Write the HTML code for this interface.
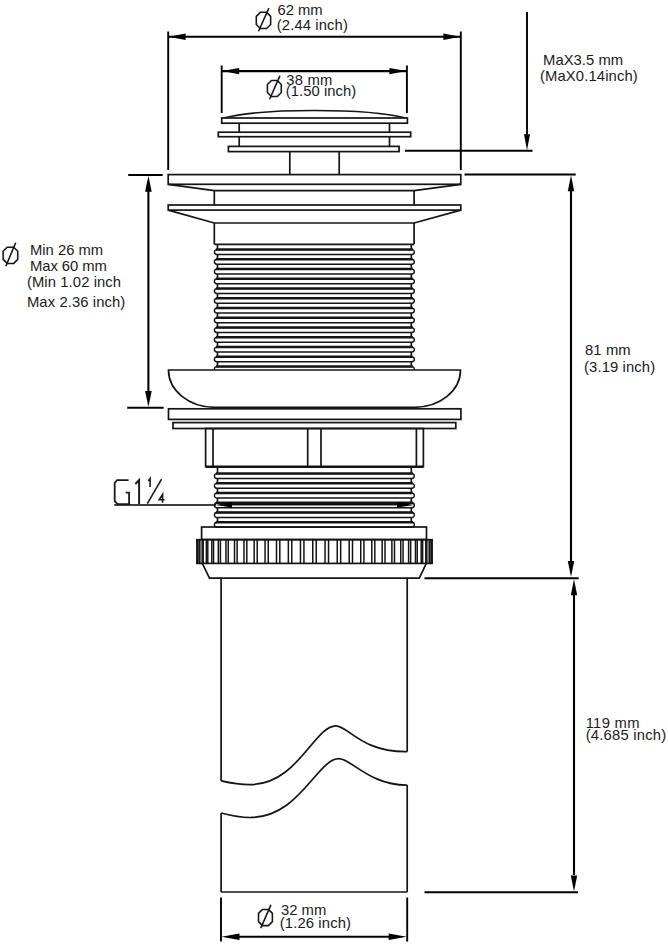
<!DOCTYPE html>
<html><head><meta charset="utf-8"><style>
html,body{margin:0;padding:0;background:#fff;}
svg{display:block;}
text{font-family:"Liberation Sans",sans-serif;}
</style></head><body>
<svg width="668" height="945" viewBox="0 0 668 945">
<rect width="668" height="945" fill="#fff"/>
<line x1="168.20" y1="31.50" x2="168.20" y2="170.00" stroke="#000" stroke-width="1.9"/>
<line x1="460.80" y1="31.50" x2="460.80" y2="170.00" stroke="#000" stroke-width="1.9"/>
<line x1="169.00" y1="36.80" x2="460.00" y2="36.80" stroke="#000" stroke-width="2.1"/>
<polygon points="168.60,36.80 185.60,33.60 185.60,40.00" fill="#000"/>
<polygon points="460.40,36.80 443.40,40.00 443.40,33.60" fill="#000"/>
<polygon points="260.30,12.33 266.65,12.33 270.65,16.33 270.65,24.50 266.65,28.50 260.30,28.50 256.30,24.50 256.30,16.33" fill="none" stroke="#161616" stroke-width="1.55" stroke-linejoin="round"/>
<line x1="258.50" y1="31.20" x2="268.90" y2="8.06" stroke="#161616" stroke-width="1.55"/>
<text x="277.4" y="14.7" font-size="14.8" textLength="45.3" lengthAdjust="spacing" fill="#1a1a1a">62 mm</text>
<text x="276.8" y="29.6" font-size="14.8" textLength="71.1" lengthAdjust="spacing" fill="#1a1a1a">(2.44 inch)</text>
<line x1="221.70" y1="65.50" x2="221.70" y2="113.00" stroke="#000" stroke-width="1.9"/>
<line x1="406.90" y1="65.50" x2="406.90" y2="113.00" stroke="#000" stroke-width="1.9"/>
<line x1="222.00" y1="71.10" x2="406.50" y2="71.10" stroke="#000" stroke-width="2.1"/>
<polygon points="222.20,71.10 239.20,67.90 239.20,74.30" fill="#000"/>
<polygon points="406.40,71.10 389.40,74.30 389.40,67.90" fill="#000"/>
<polygon points="271.40,80.55 277.30,80.55 281.30,84.55 281.30,92.50 277.30,96.50 271.40,96.50 267.40,92.50 267.40,84.55" fill="none" stroke="#161616" stroke-width="1.55" stroke-linejoin="round"/>
<line x1="269.60" y1="99.20" x2="280.00" y2="75.60" stroke="#161616" stroke-width="1.55"/>
<text x="286.2" y="84.6" font-size="14.8" textLength="46.1" lengthAdjust="spacing" fill="#1a1a1a">38 mm</text>
<text x="285.8" y="95.9" font-size="14.8" textLength="70.5" lengthAdjust="spacing" fill="#1a1a1a">(1.50 inch)</text>
<path d="M223.5 118 C262 108, 367 108, 405.5 118" fill="none" stroke="#141414" stroke-width="1.7"/>
<line x1="239.20" y1="123.20" x2="239.20" y2="146.40" stroke="#141414" stroke-width="1.7"/>
<line x1="389.50" y1="123.20" x2="389.50" y2="146.40" stroke="#141414" stroke-width="1.7"/>
<rect x="221.70" y="118.00" width="185.70" height="5.20" rx="0" fill="#fff" stroke="#141414" stroke-width="1.7"/>
<rect x="218.30" y="132.20" width="192.40" height="4.50" rx="0" fill="#fff" stroke="#141414" stroke-width="1.7"/>
<rect x="228.40" y="146.40" width="170.70" height="5.20" rx="0" fill="#fff" stroke="#141414" stroke-width="1.7"/>
<line x1="289.80" y1="151.60" x2="289.80" y2="175.00" stroke="#141414" stroke-width="1.7"/>
<line x1="339.20" y1="151.60" x2="339.20" y2="175.00" stroke="#141414" stroke-width="1.7"/>
<line x1="404.90" y1="150.70" x2="532.50" y2="150.70" stroke="#000" stroke-width="1.9"/>
<line x1="527.00" y1="12.00" x2="527.00" y2="140.00" stroke="#000" stroke-width="1.9"/>
<polygon points="527.00,150.20 524.00,134.20 530.00,134.20" fill="#000"/>
<text x="543.1" y="64.7" font-size="14.8" textLength="80.0" lengthAdjust="spacing" fill="#1a1a1a">MaX3.5 mm</text>
<text x="540.0" y="81.3" font-size="14.8" textLength="97.8" lengthAdjust="spacing" fill="#1a1a1a">(MaX0.14inch)</text>
<rect x="168.20" y="174.60" width="292.60" height="9.70" rx="0" fill="none" stroke="#141414" stroke-width="1.7"/>
<path d="M168.2 184.3 L214.3 190.7 L414.1 190.7 L460.8 184.3" fill="none" stroke="#141414" stroke-width="1.7"/>
<line x1="214.30" y1="190.70" x2="214.30" y2="205.00" stroke="#141414" stroke-width="1.7"/>
<line x1="414.10" y1="190.70" x2="414.10" y2="205.00" stroke="#141414" stroke-width="1.7"/>
<rect x="168.20" y="205.00" width="292.60" height="5.10" rx="0" fill="none" stroke="#141414" stroke-width="1.7"/>
<path d="M168.2 210.1 L214.3 223 L414.1 223 L460.8 210.1" fill="none" stroke="#141414" stroke-width="1.7"/>
<line x1="214.30" y1="223.00" x2="214.30" y2="244.30" stroke="#141414" stroke-width="1.7"/>
<line x1="414.10" y1="223.00" x2="414.10" y2="244.30" stroke="#141414" stroke-width="1.7"/>
<line x1="214.30" y1="244.30" x2="414.10" y2="244.30" stroke="#141414" stroke-width="1.7"/>
<line x1="217.50" y1="244.60" x2="217.50" y2="249.60" stroke="#141414" stroke-width="1.7"/>
<line x1="411.30" y1="244.60" x2="411.30" y2="249.60" stroke="#141414" stroke-width="1.7"/>
<path d="M216.85 249.60 L411.85 249.60 A2.45 2.45 0 0 1 411.85 254.50 L216.85 254.50 A2.45 2.45 0 0 1 216.85 249.60 Z" fill="none" stroke="#141414" stroke-width="1.4"/>
<line x1="215.90" y1="249.50" x2="412.80" y2="249.50" stroke="#141414" stroke-width="2.5"/>
<line x1="217.50" y1="254.50" x2="217.50" y2="259.35" stroke="#141414" stroke-width="1.7"/>
<line x1="411.30" y1="254.50" x2="411.30" y2="259.35" stroke="#141414" stroke-width="1.7"/>
<path d="M216.85 259.35 L411.85 259.35 A2.45 2.45 0 0 1 411.85 264.25 L216.85 264.25 A2.45 2.45 0 0 1 216.85 259.35 Z" fill="none" stroke="#141414" stroke-width="1.4"/>
<line x1="215.90" y1="259.25" x2="412.80" y2="259.25" stroke="#141414" stroke-width="2.5"/>
<line x1="217.50" y1="264.25" x2="217.50" y2="269.10" stroke="#141414" stroke-width="1.7"/>
<line x1="411.30" y1="264.25" x2="411.30" y2="269.10" stroke="#141414" stroke-width="1.7"/>
<path d="M216.85 269.10 L411.85 269.10 A2.45 2.45 0 0 1 411.85 274.00 L216.85 274.00 A2.45 2.45 0 0 1 216.85 269.10 Z" fill="none" stroke="#141414" stroke-width="1.4"/>
<line x1="215.90" y1="269.00" x2="412.80" y2="269.00" stroke="#141414" stroke-width="2.5"/>
<line x1="217.50" y1="274.00" x2="217.50" y2="278.85" stroke="#141414" stroke-width="1.7"/>
<line x1="411.30" y1="274.00" x2="411.30" y2="278.85" stroke="#141414" stroke-width="1.7"/>
<path d="M216.85 278.85 L411.85 278.85 A2.45 2.45 0 0 1 411.85 283.75 L216.85 283.75 A2.45 2.45 0 0 1 216.85 278.85 Z" fill="none" stroke="#141414" stroke-width="1.4"/>
<line x1="215.90" y1="278.75" x2="412.80" y2="278.75" stroke="#141414" stroke-width="2.5"/>
<line x1="217.50" y1="283.75" x2="217.50" y2="288.60" stroke="#141414" stroke-width="1.7"/>
<line x1="411.30" y1="283.75" x2="411.30" y2="288.60" stroke="#141414" stroke-width="1.7"/>
<path d="M216.85 288.60 L411.85 288.60 A2.45 2.45 0 0 1 411.85 293.50 L216.85 293.50 A2.45 2.45 0 0 1 216.85 288.60 Z" fill="none" stroke="#141414" stroke-width="1.4"/>
<line x1="215.90" y1="288.50" x2="412.80" y2="288.50" stroke="#141414" stroke-width="2.5"/>
<line x1="217.50" y1="293.50" x2="217.50" y2="298.35" stroke="#141414" stroke-width="1.7"/>
<line x1="411.30" y1="293.50" x2="411.30" y2="298.35" stroke="#141414" stroke-width="1.7"/>
<path d="M216.85 298.35 L411.85 298.35 A2.45 2.45 0 0 1 411.85 303.25 L216.85 303.25 A2.45 2.45 0 0 1 216.85 298.35 Z" fill="none" stroke="#141414" stroke-width="1.4"/>
<line x1="215.90" y1="298.25" x2="412.80" y2="298.25" stroke="#141414" stroke-width="2.5"/>
<line x1="217.50" y1="303.25" x2="217.50" y2="308.10" stroke="#141414" stroke-width="1.7"/>
<line x1="411.30" y1="303.25" x2="411.30" y2="308.10" stroke="#141414" stroke-width="1.7"/>
<path d="M216.85 308.10 L411.85 308.10 A2.45 2.45 0 0 1 411.85 313.00 L216.85 313.00 A2.45 2.45 0 0 1 216.85 308.10 Z" fill="none" stroke="#141414" stroke-width="1.4"/>
<line x1="215.90" y1="308.00" x2="412.80" y2="308.00" stroke="#141414" stroke-width="2.5"/>
<line x1="217.50" y1="313.00" x2="217.50" y2="317.85" stroke="#141414" stroke-width="1.7"/>
<line x1="411.30" y1="313.00" x2="411.30" y2="317.85" stroke="#141414" stroke-width="1.7"/>
<path d="M216.85 317.85 L411.85 317.85 A2.45 2.45 0 0 1 411.85 322.75 L216.85 322.75 A2.45 2.45 0 0 1 216.85 317.85 Z" fill="none" stroke="#141414" stroke-width="1.4"/>
<line x1="215.90" y1="317.75" x2="412.80" y2="317.75" stroke="#141414" stroke-width="2.5"/>
<line x1="217.50" y1="322.75" x2="217.50" y2="327.60" stroke="#141414" stroke-width="1.7"/>
<line x1="411.30" y1="322.75" x2="411.30" y2="327.60" stroke="#141414" stroke-width="1.7"/>
<path d="M216.85 327.60 L411.85 327.60 A2.45 2.45 0 0 1 411.85 332.50 L216.85 332.50 A2.45 2.45 0 0 1 216.85 327.60 Z" fill="none" stroke="#141414" stroke-width="1.4"/>
<line x1="215.90" y1="327.50" x2="412.80" y2="327.50" stroke="#141414" stroke-width="2.5"/>
<line x1="217.50" y1="332.50" x2="217.50" y2="337.35" stroke="#141414" stroke-width="1.7"/>
<line x1="411.30" y1="332.50" x2="411.30" y2="337.35" stroke="#141414" stroke-width="1.7"/>
<path d="M216.85 337.35 L411.85 337.35 A2.45 2.45 0 0 1 411.85 342.25 L216.85 342.25 A2.45 2.45 0 0 1 216.85 337.35 Z" fill="none" stroke="#141414" stroke-width="1.4"/>
<line x1="215.90" y1="337.25" x2="412.80" y2="337.25" stroke="#141414" stroke-width="2.5"/>
<line x1="217.50" y1="342.25" x2="217.50" y2="347.10" stroke="#141414" stroke-width="1.7"/>
<line x1="411.30" y1="342.25" x2="411.30" y2="347.10" stroke="#141414" stroke-width="1.7"/>
<path d="M216.85 347.10 L411.85 347.10 A2.45 2.45 0 0 1 411.85 352.00 L216.85 352.00 A2.45 2.45 0 0 1 216.85 347.10 Z" fill="none" stroke="#141414" stroke-width="1.4"/>
<line x1="215.90" y1="347.00" x2="412.80" y2="347.00" stroke="#141414" stroke-width="2.5"/>
<line x1="217.50" y1="352.00" x2="217.50" y2="356.85" stroke="#141414" stroke-width="1.7"/>
<line x1="411.30" y1="352.00" x2="411.30" y2="356.85" stroke="#141414" stroke-width="1.7"/>
<path d="M216.85 356.85 L411.85 356.85 A2.45 2.45 0 0 1 411.85 361.75 L216.85 361.75 A2.45 2.45 0 0 1 216.85 356.85 Z" fill="none" stroke="#141414" stroke-width="1.4"/>
<line x1="215.90" y1="356.75" x2="412.80" y2="356.75" stroke="#141414" stroke-width="2.5"/>
<line x1="217.50" y1="361.75" x2="217.50" y2="366.60" stroke="#141414" stroke-width="1.7"/>
<line x1="411.30" y1="361.75" x2="411.30" y2="366.60" stroke="#141414" stroke-width="1.7"/>
<path d="M216.85 366.60 L411.85 366.60 A2.45 2.45 0 0 1 411.85 371.50 L216.85 371.50 A2.45 2.45 0 0 1 216.85 366.60 Z" fill="none" stroke="#141414" stroke-width="1.4"/>
<line x1="215.90" y1="366.50" x2="412.80" y2="366.50" stroke="#141414" stroke-width="2.5"/>
<line x1="217.50" y1="371.50" x2="217.50" y2="370.00" stroke="#141414" stroke-width="1.7"/>
<line x1="411.30" y1="371.50" x2="411.30" y2="370.00" stroke="#141414" stroke-width="1.7"/>
<path d="M168.5 370 L460.5 370 A46 37.3 0 0 1 414.5 407.3 L214.5 407.3 A46 37.3 0 0 1 168.5 370 Z" fill="#fff" stroke="#141414" stroke-width="1.7"/>
<rect x="168.50" y="408.80" width="292.40" height="10.60" rx="0" fill="none" stroke="#141414" stroke-width="1.7"/>
<rect x="173.00" y="422.60" width="282.80" height="5.90" rx="0" fill="none" stroke="#141414" stroke-width="1.7"/>
<rect x="205.60" y="428.50" width="217.80" height="38.00" rx="0" fill="none" stroke="#141414" stroke-width="1.7"/>
<line x1="213.00" y1="428.00" x2="213.00" y2="466.50" stroke="#141414" stroke-width="1.7"/>
<line x1="416.40" y1="428.00" x2="416.40" y2="466.50" stroke="#141414" stroke-width="1.7"/>
<line x1="307.70" y1="428.00" x2="307.70" y2="466.50" stroke="#141414" stroke-width="1.7"/>
<line x1="321.00" y1="428.00" x2="321.00" y2="466.50" stroke="#141414" stroke-width="1.7"/>
<line x1="217.50" y1="466.50" x2="217.50" y2="473.60" stroke="#141414" stroke-width="1.7"/>
<line x1="411.30" y1="466.50" x2="411.30" y2="473.60" stroke="#141414" stroke-width="1.7"/>
<path d="M216.85 473.60 L411.85 473.60 A2.45 2.45 0 0 1 411.85 478.50 L216.85 478.50 A2.45 2.45 0 0 1 216.85 473.60 Z" fill="none" stroke="#141414" stroke-width="1.4"/>
<line x1="215.90" y1="473.50" x2="412.80" y2="473.50" stroke="#141414" stroke-width="2.5"/>
<line x1="217.50" y1="478.50" x2="217.50" y2="483.34" stroke="#141414" stroke-width="1.7"/>
<line x1="411.30" y1="478.50" x2="411.30" y2="483.34" stroke="#141414" stroke-width="1.7"/>
<path d="M216.85 483.34 L411.85 483.34 A2.45 2.45 0 0 1 411.85 488.24 L216.85 488.24 A2.45 2.45 0 0 1 216.85 483.34 Z" fill="none" stroke="#141414" stroke-width="1.4"/>
<line x1="215.90" y1="483.24" x2="412.80" y2="483.24" stroke="#141414" stroke-width="2.5"/>
<line x1="217.50" y1="488.24" x2="217.50" y2="493.08" stroke="#141414" stroke-width="1.7"/>
<line x1="411.30" y1="488.24" x2="411.30" y2="493.08" stroke="#141414" stroke-width="1.7"/>
<path d="M216.85 493.08 L411.85 493.08 A2.45 2.45 0 0 1 411.85 497.98 L216.85 497.98 A2.45 2.45 0 0 1 216.85 493.08 Z" fill="none" stroke="#141414" stroke-width="1.4"/>
<line x1="215.90" y1="492.98" x2="412.80" y2="492.98" stroke="#141414" stroke-width="2.5"/>
<line x1="217.50" y1="497.98" x2="217.50" y2="502.82" stroke="#141414" stroke-width="1.7"/>
<line x1="411.30" y1="497.98" x2="411.30" y2="502.82" stroke="#141414" stroke-width="1.7"/>
<path d="M216.85 502.82 L411.85 502.82 A2.45 2.45 0 0 1 411.85 507.72 L216.85 507.72 A2.45 2.45 0 0 1 216.85 502.82 Z" fill="none" stroke="#141414" stroke-width="1.4"/>
<line x1="215.90" y1="502.72" x2="412.80" y2="502.72" stroke="#141414" stroke-width="2.5"/>
<line x1="217.50" y1="507.72" x2="217.50" y2="512.56" stroke="#141414" stroke-width="1.7"/>
<line x1="411.30" y1="507.72" x2="411.30" y2="512.56" stroke="#141414" stroke-width="1.7"/>
<path d="M216.85 512.56 L411.85 512.56 A2.45 2.45 0 0 1 411.85 517.46 L216.85 517.46 A2.45 2.45 0 0 1 216.85 512.56 Z" fill="none" stroke="#141414" stroke-width="1.4"/>
<line x1="215.90" y1="512.46" x2="412.80" y2="512.46" stroke="#141414" stroke-width="2.5"/>
<line x1="217.50" y1="517.46" x2="217.50" y2="522.30" stroke="#141414" stroke-width="1.7"/>
<line x1="411.30" y1="517.46" x2="411.30" y2="522.30" stroke="#141414" stroke-width="1.7"/>
<path d="M216.85 522.30 L411.85 522.30 A2.45 2.45 0 0 1 411.85 527.20 L216.85 527.20 A2.45 2.45 0 0 1 216.85 522.30 Z" fill="none" stroke="#141414" stroke-width="1.4"/>
<line x1="215.90" y1="522.20" x2="412.80" y2="522.20" stroke="#141414" stroke-width="2.5"/>
<line x1="217.50" y1="527.20" x2="217.50" y2="527.00" stroke="#141414" stroke-width="1.7"/>
<line x1="411.30" y1="527.20" x2="411.30" y2="527.00" stroke="#141414" stroke-width="1.7"/>
<line x1="205.60" y1="466.80" x2="423.40" y2="466.80" stroke="#141414" stroke-width="2.2"/>
<rect x="201.60" y="527.00" width="224.90" height="12.50" rx="0" fill="none" stroke="#141414" stroke-width="1.7"/>
<rect x="196.90" y="539.70" width="235.20" height="23.70" rx="0" fill="none" stroke="#141414" stroke-width="1.7"/>
<line x1="197.74" y1="539.70" x2="197.74" y2="563.40" stroke="#141414" stroke-width="1.5"/>
<line x1="199.12" y1="539.70" x2="199.12" y2="563.40" stroke="#141414" stroke-width="1.5"/>
<line x1="199.85" y1="539.70" x2="199.85" y2="563.40" stroke="#141414" stroke-width="1.5"/>
<line x1="202.13" y1="539.70" x2="202.13" y2="563.40" stroke="#141414" stroke-width="1.5"/>
<line x1="203.21" y1="539.70" x2="203.21" y2="563.40" stroke="#141414" stroke-width="1.5"/>
<line x1="206.37" y1="539.70" x2="206.37" y2="563.40" stroke="#141414" stroke-width="1.5"/>
<line x1="207.79" y1="539.70" x2="207.79" y2="563.40" stroke="#141414" stroke-width="1.5"/>
<line x1="211.79" y1="539.70" x2="211.79" y2="563.40" stroke="#141414" stroke-width="1.5"/>
<line x1="213.54" y1="539.70" x2="213.54" y2="563.40" stroke="#141414" stroke-width="1.5"/>
<line x1="218.34" y1="539.70" x2="218.34" y2="563.40" stroke="#141414" stroke-width="1.5"/>
<line x1="220.40" y1="539.70" x2="220.40" y2="563.40" stroke="#141414" stroke-width="1.5"/>
<line x1="225.95" y1="539.70" x2="225.95" y2="563.40" stroke="#141414" stroke-width="1.5"/>
<line x1="228.28" y1="539.70" x2="228.28" y2="563.40" stroke="#141414" stroke-width="1.5"/>
<line x1="234.52" y1="539.70" x2="234.52" y2="563.40" stroke="#141414" stroke-width="1.5"/>
<line x1="237.12" y1="539.70" x2="237.12" y2="563.40" stroke="#141414" stroke-width="1.5"/>
<line x1="243.97" y1="539.70" x2="243.97" y2="563.40" stroke="#141414" stroke-width="1.5"/>
<line x1="246.80" y1="539.70" x2="246.80" y2="563.40" stroke="#141414" stroke-width="1.5"/>
<line x1="254.20" y1="539.70" x2="254.20" y2="563.40" stroke="#141414" stroke-width="1.5"/>
<line x1="257.22" y1="539.70" x2="257.22" y2="563.40" stroke="#141414" stroke-width="1.5"/>
<line x1="265.08" y1="539.70" x2="265.08" y2="563.40" stroke="#141414" stroke-width="1.5"/>
<line x1="268.27" y1="539.70" x2="268.27" y2="563.40" stroke="#141414" stroke-width="1.5"/>
<line x1="276.50" y1="539.70" x2="276.50" y2="563.40" stroke="#141414" stroke-width="1.5"/>
<line x1="279.82" y1="539.70" x2="279.82" y2="563.40" stroke="#141414" stroke-width="1.5"/>
<line x1="288.35" y1="539.70" x2="288.35" y2="563.40" stroke="#141414" stroke-width="1.5"/>
<line x1="291.76" y1="539.70" x2="291.76" y2="563.40" stroke="#141414" stroke-width="1.5"/>
<line x1="300.47" y1="539.70" x2="300.47" y2="563.40" stroke="#141414" stroke-width="1.5"/>
<line x1="303.94" y1="539.70" x2="303.94" y2="563.40" stroke="#141414" stroke-width="1.5"/>
<line x1="312.76" y1="539.70" x2="312.76" y2="563.40" stroke="#141414" stroke-width="1.5"/>
<line x1="316.24" y1="539.70" x2="316.24" y2="563.40" stroke="#141414" stroke-width="1.5"/>
<line x1="325.06" y1="539.70" x2="325.06" y2="563.40" stroke="#141414" stroke-width="1.5"/>
<line x1="328.53" y1="539.70" x2="328.53" y2="563.40" stroke="#141414" stroke-width="1.5"/>
<line x1="337.24" y1="539.70" x2="337.24" y2="563.40" stroke="#141414" stroke-width="1.5"/>
<line x1="340.65" y1="539.70" x2="340.65" y2="563.40" stroke="#141414" stroke-width="1.5"/>
<line x1="349.18" y1="539.70" x2="349.18" y2="563.40" stroke="#141414" stroke-width="1.5"/>
<line x1="352.50" y1="539.70" x2="352.50" y2="563.40" stroke="#141414" stroke-width="1.5"/>
<line x1="360.73" y1="539.70" x2="360.73" y2="563.40" stroke="#141414" stroke-width="1.5"/>
<line x1="363.92" y1="539.70" x2="363.92" y2="563.40" stroke="#141414" stroke-width="1.5"/>
<line x1="371.78" y1="539.70" x2="371.78" y2="563.40" stroke="#141414" stroke-width="1.5"/>
<line x1="374.80" y1="539.70" x2="374.80" y2="563.40" stroke="#141414" stroke-width="1.5"/>
<line x1="382.20" y1="539.70" x2="382.20" y2="563.40" stroke="#141414" stroke-width="1.5"/>
<line x1="385.03" y1="539.70" x2="385.03" y2="563.40" stroke="#141414" stroke-width="1.5"/>
<line x1="391.88" y1="539.70" x2="391.88" y2="563.40" stroke="#141414" stroke-width="1.5"/>
<line x1="394.48" y1="539.70" x2="394.48" y2="563.40" stroke="#141414" stroke-width="1.5"/>
<line x1="400.72" y1="539.70" x2="400.72" y2="563.40" stroke="#141414" stroke-width="1.5"/>
<line x1="403.05" y1="539.70" x2="403.05" y2="563.40" stroke="#141414" stroke-width="1.5"/>
<line x1="408.60" y1="539.70" x2="408.60" y2="563.40" stroke="#141414" stroke-width="1.5"/>
<line x1="410.66" y1="539.70" x2="410.66" y2="563.40" stroke="#141414" stroke-width="1.5"/>
<line x1="415.46" y1="539.70" x2="415.46" y2="563.40" stroke="#141414" stroke-width="1.5"/>
<line x1="417.21" y1="539.70" x2="417.21" y2="563.40" stroke="#141414" stroke-width="1.5"/>
<line x1="421.21" y1="539.70" x2="421.21" y2="563.40" stroke="#141414" stroke-width="1.5"/>
<line x1="422.63" y1="539.70" x2="422.63" y2="563.40" stroke="#141414" stroke-width="1.5"/>
<line x1="425.79" y1="539.70" x2="425.79" y2="563.40" stroke="#141414" stroke-width="1.5"/>
<line x1="426.87" y1="539.70" x2="426.87" y2="563.40" stroke="#141414" stroke-width="1.5"/>
<line x1="429.15" y1="539.70" x2="429.15" y2="563.40" stroke="#141414" stroke-width="1.5"/>
<line x1="429.88" y1="539.70" x2="429.88" y2="563.40" stroke="#141414" stroke-width="1.5"/>
<line x1="431.26" y1="539.70" x2="431.26" y2="563.40" stroke="#141414" stroke-width="1.5"/>
<path d="M202.3 563.4 L209.5 578.1 L419.3 578.1 L426.3 563.4" fill="none" stroke="#141414" stroke-width="1.7"/>
<line x1="221.10" y1="578.10" x2="221.10" y2="781.00" stroke="#141414" stroke-width="1.7"/>
<line x1="407.20" y1="578.10" x2="407.20" y2="751.70" stroke="#141414" stroke-width="1.7"/>
<path d="M221.2 780.9 C231 783.2 241 784.6 250 784.6 C298 784.6 314 725.8 336 725.8 C348 725.8 362 752.5 407.2 751.7" fill="none" stroke="#141414" stroke-width="1.7"/>
<path d="M221.2 813 C231 815.6 241 817.5 250 817.5 C300 817.5 317 758.7 339 758.7 C351 758.7 370 785.5 407.2 785.1" fill="none" stroke="#141414" stroke-width="1.7"/>
<line x1="221.10" y1="813.00" x2="221.10" y2="892.00" stroke="#141414" stroke-width="1.7"/>
<line x1="407.20" y1="785.10" x2="407.20" y2="892.00" stroke="#141414" stroke-width="1.7"/>
<line x1="221.10" y1="892.00" x2="407.20" y2="892.00" stroke="#141414" stroke-width="1.7"/>
<line x1="128.20" y1="175.00" x2="162.70" y2="175.00" stroke="#000" stroke-width="2.1"/>
<line x1="127.20" y1="407.80" x2="163.60" y2="407.80" stroke="#000" stroke-width="2.1"/>
<line x1="148.40" y1="190.00" x2="148.40" y2="393.00" stroke="#000" stroke-width="2.1"/>
<polygon points="148.40,175.80 151.70,191.80 145.10,191.80" fill="#000"/>
<polygon points="148.40,407.00 145.10,391.00 151.70,391.00" fill="#000"/>
<polygon points="7.14,247.20 13.74,247.20 17.74,251.20 17.74,259.40 13.74,263.40 7.14,263.40 3.14,259.40 3.14,251.20" fill="none" stroke="#161616" stroke-width="1.55" stroke-linejoin="round"/>
<line x1="5.84" y1="266.30" x2="15.70" y2="242.70" stroke="#161616" stroke-width="1.55"/>
<text x="30.0" y="254.7" font-size="14.8" textLength="73.1" lengthAdjust="spacing" fill="#1a1a1a">Min 26 mm</text>
<text x="30.0" y="270.9" font-size="14.8" textLength="76.9" lengthAdjust="spacing" fill="#1a1a1a">Max 60 mm</text>
<text x="26.9" y="287" font-size="14.8" textLength="94.2" lengthAdjust="spacing" fill="#1a1a1a">(Min 1.02 inch</text>
<text x="26.9" y="306.5" font-size="14.8" textLength="98.4" lengthAdjust="spacing" fill="#1a1a1a">Max 2.36 inch)</text>
<line x1="464.50" y1="174.50" x2="575.70" y2="174.50" stroke="#000" stroke-width="1.9"/>
<line x1="424.50" y1="578.20" x2="578.70" y2="578.20" stroke="#000" stroke-width="1.9"/>
<line x1="571.00" y1="190.00" x2="571.00" y2="561.00" stroke="#000" stroke-width="2.1"/>
<polygon points="571.00,175.30 574.20,191.30 567.80,191.30" fill="#000"/>
<polygon points="571.00,577.00 567.80,561.00 574.20,561.00" fill="#000"/>
<text x="584.9" y="354.6" font-size="14.8" textLength="45.8" lengthAdjust="spacing" fill="#1a1a1a">81 mm</text>
<text x="584.0" y="372.4" font-size="14.8" textLength="71.1" lengthAdjust="spacing" fill="#1a1a1a">(3.19 inch)</text>
<line x1="574.00" y1="594.00" x2="574.00" y2="875.00" stroke="#000" stroke-width="2.1"/>
<polygon points="574.00,579.20 577.20,595.20 570.80,595.20" fill="#000"/>
<polygon points="574.00,891.60 570.80,875.60 577.20,875.60" fill="#000"/>
<line x1="424.50" y1="892.20" x2="578.00" y2="892.20" stroke="#000" stroke-width="1.9"/>
<text x="585.7" y="727.5" font-size="14.8" textLength="53.8" lengthAdjust="spacing" fill="#1a1a1a">119 mm</text>
<text x="585.7" y="740.3" font-size="14.8" textLength="80.5" lengthAdjust="spacing" fill="#1a1a1a">(4.685 inch)</text>
<line x1="221.00" y1="897.50" x2="221.00" y2="941.60" stroke="#000" stroke-width="1.9"/>
<line x1="407.20" y1="897.50" x2="407.20" y2="941.60" stroke="#000" stroke-width="1.9"/>
<line x1="238.00" y1="936.80" x2="390.00" y2="936.80" stroke="#000" stroke-width="2.1"/>
<polygon points="221.50,936.80 239.50,933.50 239.50,940.10" fill="#000"/>
<polygon points="406.70,936.80 388.70,940.10 388.70,933.50" fill="#000"/>
<polygon points="262.50,909.40 268.40,909.40 272.40,913.40 272.40,921.60 268.40,925.60 262.50,925.60 258.50,921.60 258.50,913.40" fill="none" stroke="#161616" stroke-width="1.55" stroke-linejoin="round"/>
<line x1="260.75" y1="928.10" x2="270.90" y2="904.90" stroke="#161616" stroke-width="1.55"/>
<text x="280.9" y="914.8" font-size="14.8" textLength="45.4" lengthAdjust="spacing" fill="#1a1a1a">32 mm</text>
<text x="279.7" y="928.3" font-size="14.8" textLength="71.3" lengthAdjust="spacing" fill="#1a1a1a">(1.26 inch)</text>
<line x1="114.30" y1="505.00" x2="216.00" y2="505.00" stroke="#000" stroke-width="1.6"/>
<polygon points="215.30,505.00 232.00,501.90 232.00,507.50" fill="#000"/>
<polygon points="414.30,505.00 397.00,501.90 397.00,507.50" fill="#000"/>
<line x1="231.00" y1="504.30" x2="398.00" y2="504.30" stroke="#111" stroke-width="2.2"/>
<path d="M128.6 480.1 L117.1 480.1 L114.7 483 L114.7 501.2 L117.6 504.1 L129.1 504.1 L129.1 492.6 L125.7 492.6" fill="none" stroke="#1a1a1a" stroke-width="1.8"/>
<path d="M135.3 484 L139.1 480.1 L139.1 504.1" fill="none" stroke="#1a1a1a" stroke-width="1.9"/>
<path d="M148.2 481.1 L150.1 478.5 L150.1 487.1" fill="none" stroke="#1a1a1a" stroke-width="1.6"/>
<line x1="147.30" y1="503.60" x2="161.60" y2="479.20" stroke="#1a1a1a" stroke-width="1.6"/>
<path d="M162.6 502.7 L162.6 494.5 L159.2 499.8 L164.5 499.8" fill="none" stroke="#1a1a1a" stroke-width="1.6"/>
</svg></body></html>
